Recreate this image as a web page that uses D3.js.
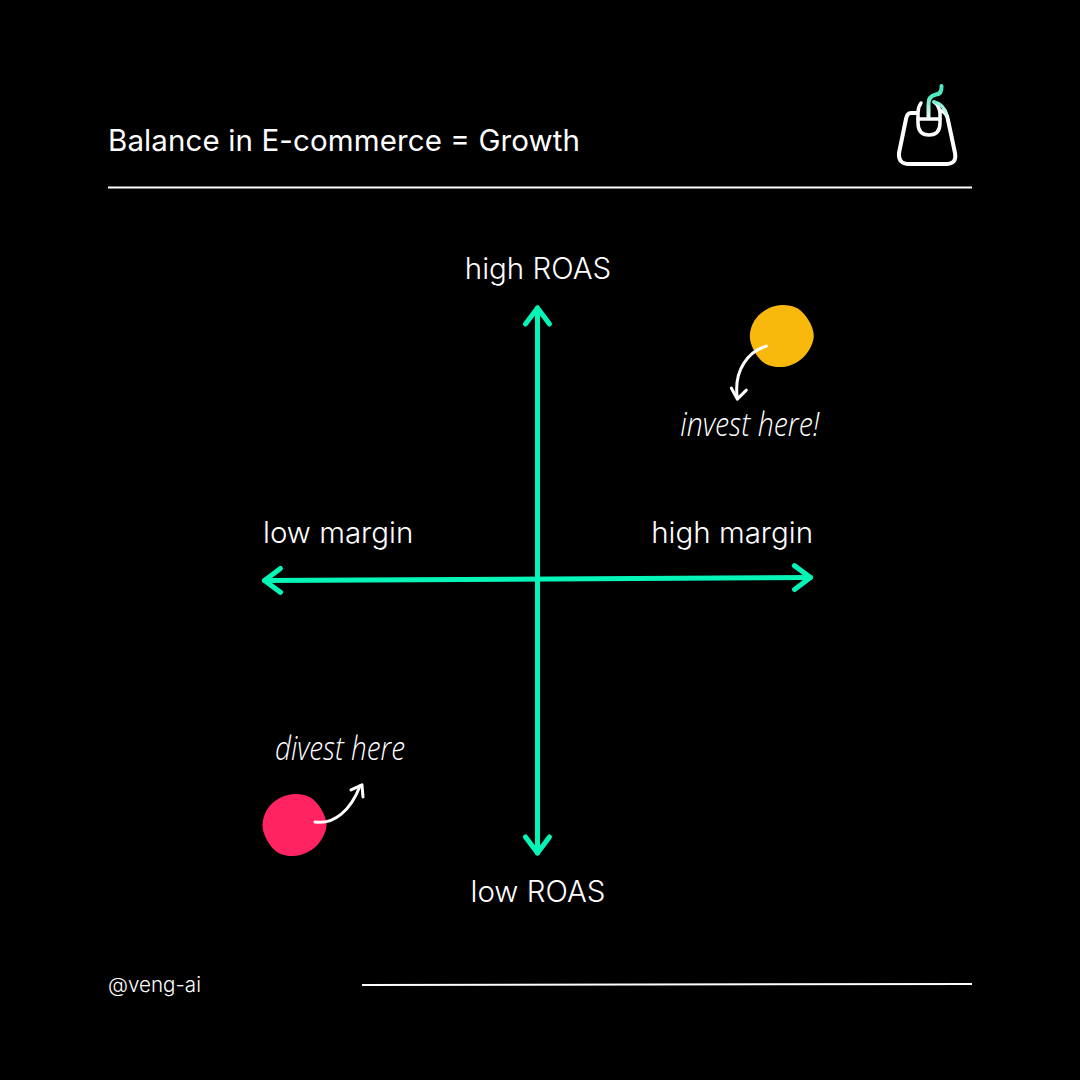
<!DOCTYPE html>
<html>
<head>
<meta charset="utf-8">
<script src="https://cdn.jsdelivr.net/npm/d3@7"></script>
<style>
html, body { margin: 0; padding: 0; background: #000; }
svg { display: block; }
text { font-family: Inter, "Noto Sans", sans-serif; fill: #fff; }
</style>
</head>
<body>
<svg id="chart" width="1080" height="1080"></svg>
<script>
const titleText = 'Balance in E-commerce = Growth'
const handleText = '@veng-ai'

// axis ends, in chart units
const axisNames = ['margin', 'roas']
const axisFromX = [-1, 0]
const axisFromY = [0, -1]
const axisToX = [1, 0]
const axisToY = [0.011, 1]

const axisLabels = ['high ROAS', 'low ROAS', 'low margin', 'high margin']

const pointNames = ['invest here!', 'divest here']
const pointX = [0.893, -0.892]
const pointY = [0.897, -0.897]
const pointColors = ['#f8b90c', '#ff2461']

const axisColor = '#05f5b8'
const white = '#ffffff'

const svg = d3.select('#chart')

const xScale = d3.scaleLinear().domain([-1, 1]).range([264.5, 810.5])
const yScale = d3.scaleLinear().domain([-1, 1]).range([853, 308])

// header and footer
svg.append('text').attr('x', 108).attr('y', 151).text(titleText)
  .style('font-size', '29.5px').style('font-weight', 400)
  .attr('textLength', 472).attr('lengthAdjust', 'spacing')
svg.append('line').attr('x1', 108).attr('x2', 972).attr('y1', 187.5).attr('y2', 187.5)
  .attr('stroke', white).attr('stroke-width', 2)
svg.append('text').attr('x', 108).attr('y', 992).text(handleText)
  .style('font-size', '20.6px').style('font-weight', 300)
svg.append('line').attr('x1', 362).attr('x2', 972).attr('y1', 985).attr('y2', 984)
  .attr('stroke', white).attr('stroke-width', 2)

// bag icon, white fading into the teal at the top
const grad = svg.append('defs').append('linearGradient').attr('id', 'iconFade')
  .attr('gradientUnits', 'userSpaceOnUse')
  .attr('x1', 0).attr('x2', 0).attr('y1', 96).attr('y2', 120)
grad.append('stop').attr('offset', 0).attr('stop-color', '#4fe8c0')
grad.append('stop').attr('offset', 1).attr('stop-color', white)

const icon = svg.append('g').attr('fill', 'none').attr('stroke-linecap', 'round').attr('stroke-linejoin', 'round')
icon.append('path')
  .attr('d', 'M917 113 H911 Q907 113 906 119 L899 153 Q898 164 909 164 H946 Q957 164 955 153 L948 120 Q947 113 942 111')
  .attr('stroke', white).attr('stroke-width', 4)
icon.append('path')
  .attr('d', 'M921 103 Q918 107 918 113 V123 Q918 135 929 135 Q940 135 940 123 V113 Q939 105 934 102')
  .attr('stroke', white).attr('stroke-width', 3.5)
icon.append('path').attr('d', 'M918 119 H940').attr('stroke', white).attr('stroke-width', 3.5)
icon.append('path')
  .attr('d', 'M934 102 Q944 104 947 116')
  .attr('stroke', 'url(#iconFade)').attr('stroke-width', 3.5)
icon.append('path')
  .attr('d', 'M928.5 118 V105 Q928 96 936 94.5 Q942 94 941.5 86')
  .attr('stroke', 'url(#iconFade)').attr('stroke-width', 4)

// axes
const arrowSize = 20
axisNames.forEach((name, i) => {
  const x1 = xScale(axisFromX[i]), y1 = yScale(axisFromY[i])
  const x2 = xScale(axisToX[i]), y2 = yScale(axisToY[i])
  const angle = Math.atan2(y2 - y1, x2 - x1)
  const head = (x, y, a) => {
    const p = d3.path()
    p.moveTo(x + arrowSize * Math.cos(a + 2.5), y + arrowSize * Math.sin(a + 2.5))
    p.lineTo(x, y)
    p.lineTo(x + arrowSize * Math.cos(a - 2.5), y + arrowSize * Math.sin(a - 2.5))
    return p.toString()
  }
  const g = svg.append('g').attr('fill', 'none').attr('stroke', axisColor)
    .attr('stroke-width', 5).attr('stroke-linecap', 'round').attr('stroke-linejoin', 'round')
  g.append('line').attr('x1', x1).attr('y1', y1).attr('x2', x2).attr('y2', y2)
  g.append('path').attr('d', head(x2, y2, angle))
  g.append('path').attr('d', head(x1, y1, angle + Math.PI))
})

// axis labels
const labelPos = [
  { x: 538, y: 279, anchor: 'middle' },
  { x: 538, y: 902, anchor: 'middle' },
  { x: 263, y: 543, anchor: 'start' },
  { x: 813, y: 543, anchor: 'end' }
]
svg.selectAll('text.axis-label').data(axisLabels).enter().append('text')
  .attr('class', 'axis-label')
  .attr('x', (d, i) => labelPos[i].x)
  .attr('y', (d, i) => labelPos[i].y)
  .attr('text-anchor', (d, i) => labelPos[i].anchor)
  .style('font-size', '29.5px').style('font-weight', 300)
  .text(d => d)

// points, a touch uneven like the hand drawn ones
const blobRadii = [31, 32, 31.5, 32.5, 31, 30.5, 31, 32, 31, 31.5, 31, 30.5]
const blob = d3.lineRadial()
  .angle((d, i) => i / blobRadii.length * 2 * Math.PI)
  .radius(d => d)
  .curve(d3.curveCardinalClosed)
svg.selectAll('path.point').data(pointNames).enter().append('path')
  .attr('class', 'point')
  .attr('transform', (d, i) => `translate(${xScale(pointX[i])},${yScale(pointY[i])})`)
  .attr('d', blob(blobRadii))
  .attr('fill', (d, i) => pointColors[i])

// annotations, placed from the point they belong to
const noteOffset = [
  { text: [-31.5, 100], width: 139, curve: 'M-15 10 C-32 15 -48 33 -44 62', head: 'M-50 52 L-44 63 L-35 54' },
  { text: [46, -65], width: 130, curve: 'M21 -3 C40 0 57 -15 66 -39', head: 'M57 -35 L68 -40 L69 -28' }
]
pointNames.forEach((name, i) => {
  const g = svg.append('g').attr('transform', `translate(${xScale(pointX[i])},${yScale(pointY[i])})`)
  g.append('path').attr('d', noteOffset[i].curve).attr('fill', 'none').attr('stroke', white)
    .attr('stroke-width', 3).attr('stroke-linecap', 'round')
  g.append('path').attr('d', noteOffset[i].head).attr('fill', 'none').attr('stroke', white)
    .attr('stroke-width', 3).attr('stroke-linecap', 'round').attr('stroke-linejoin', 'round')
  g.append('text').attr('x', noteOffset[i].text[0]).attr('y', noteOffset[i].text[1])
    .attr('text-anchor', 'middle')
    .style('font-family', '"Open Sans", sans-serif')
    .style('font-style', 'italic').style('font-weight', 300).style('font-size', '33px')
    .attr('textLength', noteOffset[i].width).attr('lengthAdjust', 'spacingAndGlyphs')
    .text(name)
})
</script>
</body>
</html>
